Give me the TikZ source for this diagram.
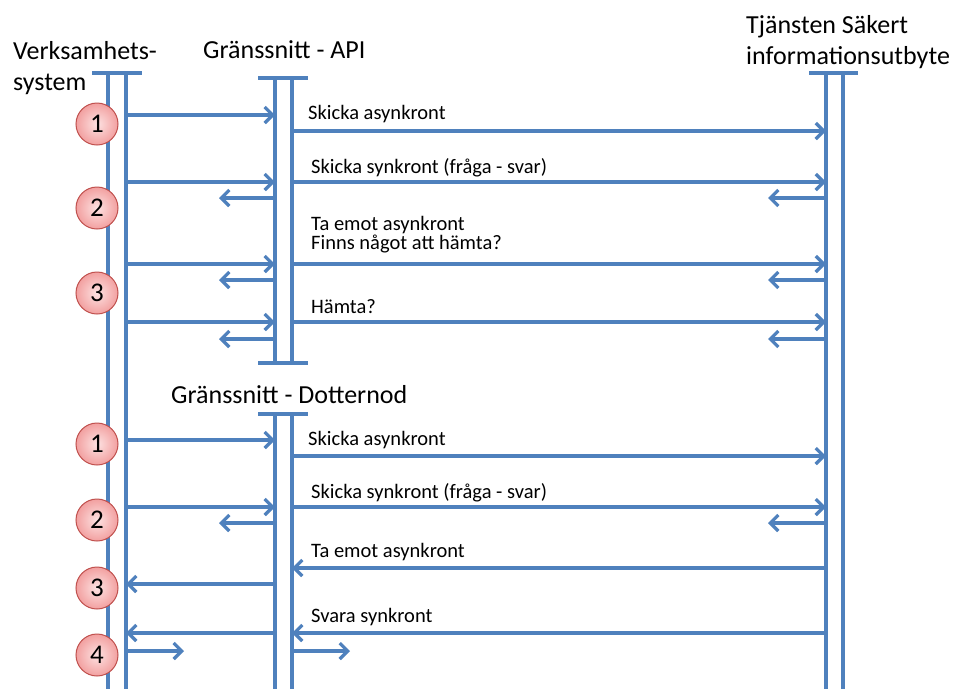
\documentclass[tikz,border=0pt]{standalone}
\usepackage{fontspec}
\setmainfont{Carlito}
\usetikzlibrary{arrows.meta}
\definecolor{lineblue}{HTML}{4F81BD}
\definecolor{badgeedge}{HTML}{C0504D}
\definecolor{badgein}{HTML}{FDE2E2}
\definecolor{badgeout}{HTML}{F2A0A0}
\begin{document}
\begin{tikzpicture}[x=1pt,y=-1pt,
  life/.style={draw=lineblue,line width=3.2pt},
  bar/.style={draw=lineblue,line width=4pt},
  msg/.style={draw=lineblue,line width=3.2pt,-{Straight Barb[length=8pt,width=16pt]}},
  lbl/.style={anchor=base west,inner sep=0pt,font=\fontsize{20.5}{18.5}\selectfont,align=left},
  head/.style={anchor=base west,inner sep=0pt,font=\fontsize{26}{31}\selectfont,align=left},
  badge/.style={circle,draw=badgeedge,line width=1pt,inner color=badgein,outer color=badgeout,
    minimum size=42pt,inner sep=0pt,font=\fontsize{27}{27}\selectfont},
]
\useasboundingbox[fill=white] (0,0) rectangle (959,689);

% lifeline columns
\coordinate (VL) at (108,0);  \coordinate (VR) at (126,0);
\coordinate (AL) at (275,0);  \coordinate (AR) at (292,0);
\coordinate (TL) at (826,0);  \coordinate (TR) at (843,0);
% free ends of the short arrows
\coordinate (VRet) at (219,0); \coordinate (TRet) at (768,0);
\coordinate (Vfw) at (184,0);  \coordinate (Afw) at (350,0);

% vertical levels
\coordinate (topV) at (0,73);  \coordinate (topA) at (0,78);
\coordinate (endA) at (0,363); \coordinate (topD) at (0,414);
\coordinate (bot) at (0,689);

% bar end points
\coordinate (Vb1) at (92,0);  \coordinate (Vb2) at (142,0);
\coordinate (Ab1) at (258,0); \coordinate (Ab2) at (308,0);
\coordinate (Tb1) at (809,0); \coordinate (Tb2) at (858,0);

% headings (multi-line nodes sit on the baseline of their last line)
\node[head] (hV) at (13,90) {Verksamhets-\\system};
\node[head] (hA) at (203,58) {Gränssnitt - API};
\node[head] (hT) at (746,64) {Tjänsten Säkert\\informationsutbyte};
\node[head] (hD) at (171,403) {Gränssnitt - Dotternod};

% lifelines
\draw[life] (VL |- topV) -- (VL |- bot);
\draw[life] (VR |- topV) -- (VR |- bot);
\draw[bar] (Vb1 |- topV) -- (Vb2 |- topV);

\draw[life] (AL |- topA) -- (AL |- endA);
\draw[life] (AR |- topA) -- (AR |- endA);
\draw[bar] (Ab1 |- topA) -- (Ab2 |- topA);
\draw[bar] (Ab1 |- endA) -- (Ab2 |- endA);

\draw[life] (AL |- topD) -- (AL |- bot);
\draw[life] (AR |- topD) -- (AR |- bot);
\draw[bar] (Ab1 |- topD) -- (Ab2 |- topD);

\draw[life] (TL |- topV) -- (TL |- bot);
\draw[life] (TR |- topV) -- (TR |- bot);
\draw[bar] (Tb1 |- topV) -- (Tb2 |- topV);

% message rows, API section
\coordinate (r1) at (0,115); \coordinate (r1b) at (0,131);
\coordinate (r2) at (0,182); \coordinate (r2b) at (0,198);
\coordinate (r3) at (0,264); \coordinate (r3b) at (0,280);
\coordinate (r4) at (0,322); \coordinate (r4b) at (0,339);

\draw[msg] (VR |- r1) -- (AL |- r1);
\draw[msg] (AR |- r1b) -- (TL |- r1b);
\node[lbl] (l1) at (308,119) {Skicka asynkront};

\draw[msg] (VR |- r2) -- (AL |- r2);
\draw[msg] (AR |- r2) -- (TL |- r2);
\draw[msg] (AL |- r2b) -- (VRet |- r2b);
\draw[msg] (TL |- r2b) -- (TRet |- r2b);
\node[lbl] (l2) at (311,173) {Skicka synkront (fråga - svar)};

\draw[msg] (VR |- r3) -- (AL |- r3);
\draw[msg] (AR |- r3) -- (TL |- r3);
\draw[msg] (AL |- r3b) -- (VRet |- r3b);
\draw[msg] (TL |- r3b) -- (TRet |- r3b);
\node[lbl] (l3) at (311,249) {Ta emot asynkront\\Finns något att hämta?};

\draw[msg] (VR |- r4) -- (AL |- r4);
\draw[msg] (AR |- r4) -- (TL |- r4);
\draw[msg] (AL |- r4b) -- (VRet |- r4b);
\draw[msg] (TL |- r4b) -- (TRet |- r4b);
\node[lbl] (l4) at (311,313) {Hämta?};

% message rows, Dotternod section
\coordinate (s1) at (0,440); \coordinate (s1b) at (0,456);
\coordinate (s2) at (0,507); \coordinate (s2b) at (0,523);
\coordinate (s3) at (0,568); \coordinate (s3b) at (0,584);
\coordinate (s4) at (0,633); \coordinate (s4b) at (0,651);

\draw[msg] (VR |- s1) -- (AL |- s1);
\draw[msg] (AR |- s1b) -- (TL |- s1b);
\node[lbl] (m1) at (308,445) {Skicka asynkront};

\draw[msg] (VR |- s2) -- (AL |- s2);
\draw[msg] (AR |- s2) -- (TL |- s2);
\draw[msg] (AL |- s2b) -- (VRet |- s2b);
\draw[msg] (TL |- s2b) -- (TRet |- s2b);
\node[lbl] (m2) at (311,498) {Skicka synkront (fråga - svar)};

\draw[msg] (TL |- s3) -- (AR |- s3);
\draw[msg] (AL |- s3b) -- (VR |- s3b);
\node[lbl] (m3) at (311,557) {Ta emot asynkront};

\draw[msg] (TL |- s4) -- (AR |- s4);
\draw[msg] (AL |- s4) -- (VR |- s4);
\draw[msg] (VR |- s4b) -- (Vfw |- s4b);
\draw[msg] (AR |- s4b) -- (Afw |- s4b);
\node[lbl] (m4) at (311,622) {Svara synkront};

% step badges
\node[badge] (b1) at (97,124) {1};
\node[badge] (b2) at (97,208) {2};
\node[badge] (b3) at (97,293) {3};
\node[badge] (c1) at (97,444) {1};
\node[badge] (c2) at (97,520) {2};
\node[badge] (c3) at (97,588) {3};
\node[badge] (c4) at (97,655) {4};
\end{tikzpicture}
\end{document}
